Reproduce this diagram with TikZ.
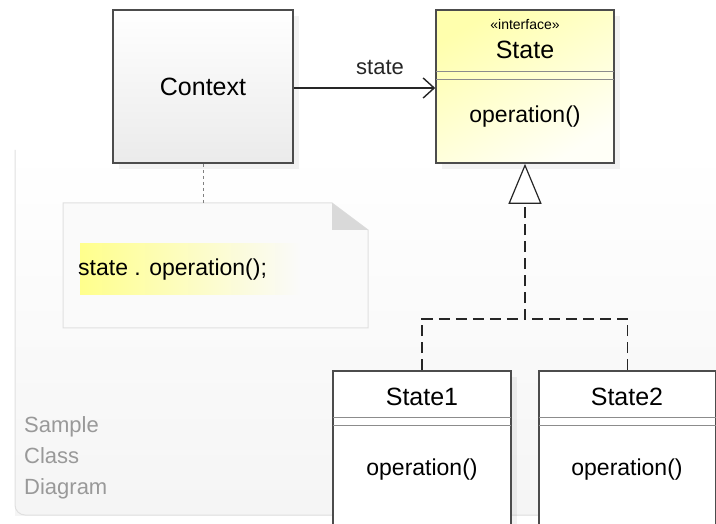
\documentclass[tikz,border=0pt]{standalone}
\usepackage{fontspec}
\setmainfont{Liberation Sans}
\usetikzlibrary{arrows.meta,shadows}

\begin{document}
\begin{tikzpicture}[x=1pt,y=-1pt,
  box/.style={draw=black!70, line width=1.6pt, inner sep=0pt,
    drop shadow={opacity=0.10, shadow xshift=6pt, shadow yshift=-6pt}},
  clsname/.style={font=\fontsize{25}{28}\selectfont, inner sep=0pt},
  optext/.style={font=\fontsize{23}{26}\selectfont, inner sep=0pt},
  sepline/.style={black!45, line width=1pt},
  real/.style={black!85, line width=1.6pt, dash pattern=on 11pt off 6pt}]

\useasboundingbox (0,0) rectangle (716,524);
\fill[white] (0,0) rectangle (716,524);

% frame
\shade[top color=white, bottom color=black!4] (15,150) rectangle (716,515);
\draw[black!12, line width=1pt, rounded corners=10pt] (15,150) -- (15,515) -- (716,515);
\node[anchor=north west, align=left, inner sep=0pt, text=black!40,
  font=\fontsize{22}{31}\selectfont] (caption) at (24,416) {Sample\\Class\\Diagram};

% note
\fill[black!2] (63,203) -- (332,203) -- (368,230) -- (368,328) -- (63,328) -- cycle;
\draw[black!12, line width=1pt] (63,203) -- (332,203) -- (368,230) -- (368,328) -- (63,328) -- cycle;
\fill[black!15] (332,203) -- (332,230) -- (368,230) -- cycle;
\node[minimum width=305pt, minimum height=125pt] (note) at (215.5,265.5) {};
\shade[left color=yellow!45, right color=black!2] (80,244) rectangle (300,295);
\node[optext, anchor=west] (code) at (78,270) {state . operation();};

% classes
\node[box, minimum width=180pt, minimum height=153pt, top color=white, bottom color=black!8, clsname] (context) at (203,86.5) {Context};

\node[box, minimum width=178pt, minimum height=153pt, top color=yellow!32, bottom color=yellow!3, shading angle=30] (state) at (525,86.5) {};
\draw[sepline] (436,72) -- (614,72);
\draw[sepline] (436,80) -- (614,80);
\node[font=\fontsize{14}{16}\selectfont, inner sep=0pt] (stereo) at (525,24) {«interface»};
\node[clsname] (statename) at (525,50) {State};
\node[optext] (stateop) at (525,117) {operation()};

\node[box, minimum width=178pt, minimum height=155pt, fill=white] (state1) at (422,448.5) {};
\draw[sepline] (333,417) -- (511,417);
\draw[sepline] (333,425) -- (511,425);
\node[clsname] (state1name) at (422,397) {State1};
\node[optext] (state1op) at (422,470) {operation()};

\node[box, minimum width=177pt, minimum height=155pt, fill=white] (state2) at (627.5,448.5) {};
\draw[sepline] (539,417) -- (716,417);
\draw[sepline] (539,425) -- (716,425);
\node[clsname] (state2name) at (627,397) {State2};
\node[optext] (state2op) at (627,470) {operation()};

% connectors
\draw[black!85, line width=2pt, -{Straight Barb[length=11pt, width=20pt, line width=1.4pt]}]
  ([yshift=-1.5pt]context.east) -- node[optext, above, pos=0.61, yshift=12pt, font=\fontsize{22}{24}\selectfont] (role) {state} ([yshift=-1.5pt]state.west);
\draw[black!50, line width=1pt, dash pattern=on 3pt off 3pt] (context.south) -- (context.south |- note.north);

\coordinate (fork) at (525,319);
\draw[real, -{Triangle[open, fill=white, length=40pt, width=33pt, line width=1.2pt]}]
  (state1.north) |- (fork) -- (state.south);
\draw[real] (state2.north) |- (fork);

\end{tikzpicture}
\end{document}
